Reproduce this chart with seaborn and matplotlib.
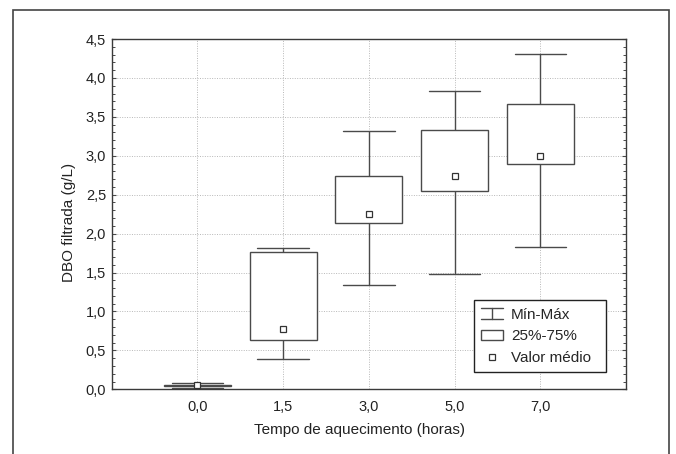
import numpy as np
import pandas as pd
import matplotlib
matplotlib.use("Agg")
import matplotlib.pyplot as plt
import seaborn as sns
from matplotlib.legend_handler import HandlerBase
from matplotlib.lines import Line2D
from matplotlib.patches import Rectangle
from matplotlib.ticker import MultipleLocator, FuncFormatter

# ---- data ----
categories = ["0,0", "1,5", "3,0", "5,0", "7,0"]
min_vals = [0.015, 0.39, 1.34, 1.48, 1.83]
q1_vals = [0.04, 0.63, 2.14, 2.55, 2.89]
mean_vals = [0.055, 0.78, 2.25, 2.74, 3.00]
q3_vals = [0.06, 1.77, 2.74, 3.33, 3.67]
max_vals = [0.075, 1.81, 3.32, 3.83, 4.31]

x_label = "Tempo de aquecimento (horas)"
y_label = "DBO filtrada (g/L)"
legend_labels = ["Mín-Máx", "25%-75%", "Valor médio"]

# long table: five summary values per category -> percentiles 0/25/75/100 reproduce them
rows = []
for c, a, b, m, d, e in zip(categories, min_vals, q1_vals, mean_vals, q3_vals, max_vals):
    for v in (a, b, m, d, e):
        rows.append({"tempo": c, "dbo": v})
df = pd.DataFrame(rows)
df_mean = pd.DataFrame({"tempo": categories, "media": mean_vals})

sns.set_style("white")
plt.rcParams["font.family"] = ["Liberation Sans", "DejaVu Sans"]

EDGE = "#4a4a4a"
fig = plt.figure(figsize=(6.76, 4.54), dpi=100)
ax = fig.add_axes([0.1652, 0.1425, 0.926 - 0.1652, 0.914 - 0.1425])

sns.boxplot(data=df, x="tempo", y="dbo", order=categories, whis=(0, 100),
            width=0.78, showfliers=False, fill=True, color="white",
            linecolor=EDGE, linewidth=1.0,
            medianprops={"visible": False}, ax=ax, zorder=3)

# widen caps
for ln in ax.lines:
    xd = np.asarray(ln.get_xdata(), float)
    yd = np.asarray(ln.get_ydata(), float)
    if len(xd) == 2 and yd[0] == yd[1] and ln.get_visible():
        w = xd[1] - xd[0]
        if 0 < w < 0.7:
            c = xd.mean()
            ln.set_xdata([c - 0.30, c + 0.30])

n_before = len(ax.lines)
sns.pointplot(data=df_mean, x="tempo", y="media", order=categories,
              linestyle="none", marker="s", color=EDGE, markersize=5,
              errorbar=None, ax=ax)
for ln in ax.lines[n_before:]:
    ln.set_markerfacecolor("white")
    ln.set_markeredgecolor("#333333")
    ln.set_markeredgewidth(0.9)
    ln.set_zorder(6)

ax.set_xlim(-1, 5)
ax.set_ylim(0, 4.5)
ax.yaxis.set_major_locator(MultipleLocator(0.5))
ax.yaxis.set_minor_locator(MultipleLocator(0.1))
ax.yaxis.set_major_formatter(FuncFormatter(lambda v, p: f"{v:.1f}".replace(".", ",")))

ax.grid(True, which="major", linestyle=(0, (1, 1.5)), color="#b8b8b8", linewidth=0.7)
ax.set_axisbelow(True)

ax.tick_params(axis="y", which="major", direction="in", length=3, width=0.8,
               left=True, right=True, color=EDGE, labelsize=10.5, pad=4,
               labelcolor="#222222")
ax.tick_params(axis="y", which="minor", direction="in", length=2, width=0.7,
               left=True, right=True, color=EDGE)
ax.tick_params(axis="x", which="both", length=0, labelsize=10.5, pad=8,
               labelcolor="#222222")

for s in ax.spines.values():
    s.set_visible(True)
    s.set_color("#3a3a3a")
    s.set_linewidth(1.0)

ax.set_xlabel(x_label, fontsize=11, color="#222222")
ax.set_ylabel(y_label, fontsize=11, color="#222222")
ax.xaxis.set_label_coords(0.481, -0.097)
ax.yaxis.set_label_coords(-0.07, 0.475)


# legend
class IBeam:
    pass


class HandlerIBeam(HandlerBase):
    def create_artists(self, legend, orig_handle, xdescent, ydescent, width,
                       height, fontsize, trans):
        x0, x1 = -xdescent, -xdescent + width
        y0, y1 = -ydescent, -ydescent + height
        xm = (x0 + x1) / 2
        out = []
        for xs, ys in (([x0, x1], [y1, y1]), ([x0, x1], [y0, y0]), ([xm, xm], [y0, y1])):
            ln = Line2D(xs, ys, color=EDGE, linewidth=1.0)
            ln.set_transform(trans)
            out.append(ln)
        return out


h_box = Rectangle((0, 0), 1, 1, facecolor="white", edgecolor=EDGE, linewidth=1.0)
h_mean = Line2D([], [], linestyle="none", marker="s", markersize=5,
                markerfacecolor="white", markeredgecolor="#333333", markeredgewidth=0.9)
leg = ax.legend([IBeam(), h_box, h_mean], legend_labels,
                handler_map={IBeam: HandlerIBeam()},
                loc="lower left", bbox_to_anchor=(0.7037, 0.048, 0.2574, 0.2),
                mode="expand", borderaxespad=0,
                frameon=True, fancybox=False, framealpha=1, edgecolor="#222222",
                fontsize=11, handlelength=1.4, handleheight=0.7,
                handletextpad=0.55, labelspacing=0.5, borderpad=0.5)
leg.get_frame().set_linewidth(1.0)
leg.set_zorder(10)

# outer frame around the figure (open at the bottom)
frame = Rectangle((13 / 676, -0.2), (669 - 13) / 676, 0.2 + 1 - 10 / 454,
                  transform=fig.transFigure, fill=False, edgecolor="#444444",
                  linewidth=1.2, clip_on=False)
fig.patches.append(frame)

fig.savefig("out.png", dpi=100)
